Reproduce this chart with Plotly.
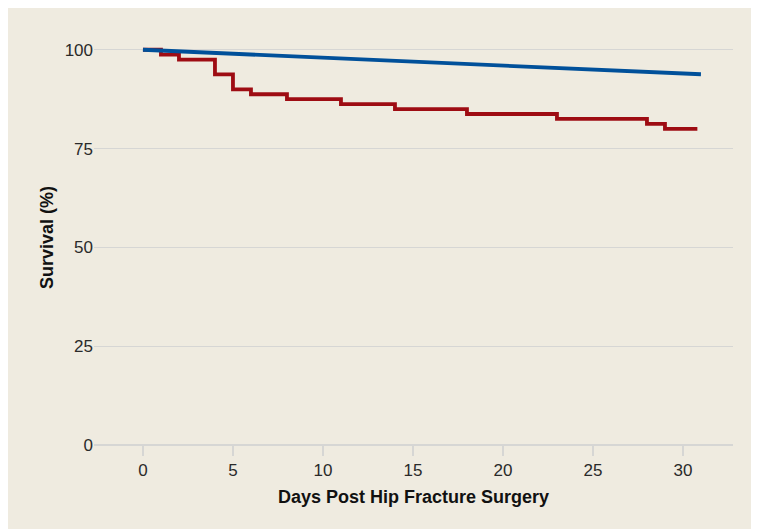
import plotly.graph_objects as go

# Expected survival (blue) and observed Kaplan-Meier survival (red)
expected_days = [0, 31]
expected_survival = [100, 93.8]

km_days = [0, 1, 2, 4, 5, 6, 8, 11, 14, 18, 23, 28, 29, 30.8]
km_survival = [100, 98.75, 97.5, 93.75, 90, 88.75, 87.5, 86.25, 85, 83.75, 82.5, 81.25, 80, 80]

x_ticks = [0, 5, 10, 15, 20, 25, 30]
y_ticks = [0, 25, 50, 75, 100]

RED = "#9E0C13"
BLUE = "#00509A"
BEIGE = "#EFEBE0"
GRID = "#D6D6D4"
FONT = "Liberation Sans, Arial, sans-serif"

fig = go.Figure()
fig.add_trace(go.Scatter(x=km_days, y=km_survival, mode="lines",
                         line=dict(color=RED, width=3.8, shape="hv"),
                         showlegend=False, hoverinfo="skip"))
fig.add_trace(go.Scatter(x=expected_days, y=expected_survival, mode="lines",
                         line=dict(color=BLUE, width=3.8),
                         showlegend=False, hoverinfo="skip"))

fig.update_layout(
    width=759, height=529,
    margin=dict(l=86, r=34, t=22, b=92),
    paper_bgcolor=BEIGE, plot_bgcolor=BEIGE,
    font=dict(family=FONT, size=17, color="#2a2a2a"),
    xaxis=dict(range=[-2.72, 32.78], tickvals=x_ticks, ticks="outside",
               ticklen=10, tickcolor=GRID, tickwidth=1.5, showgrid=False,
               zeroline=False, showline=False,
               title=dict(text="<b>Days Post Hip Fracture Surgery</b>",
                          font=dict(size=18, color="#111111"), standoff=10),
               tickfont=dict(size=17, color="#2a2a2a")),
    yaxis=dict(range=[0, 105], tickvals=y_ticks, showgrid=True,
               gridcolor=GRID, gridwidth=1.2, zeroline=True,
               zerolinecolor=GRID, zerolinewidth=1.5, showline=False,
               ticks="", title=dict(text="<b>Survival (%)</b>",
                                    font=dict(size=18, color="#111111"), standoff=6),
               tickfont=dict(size=17, color="#2a2a2a")),
)

fig.write_html("out.html")
